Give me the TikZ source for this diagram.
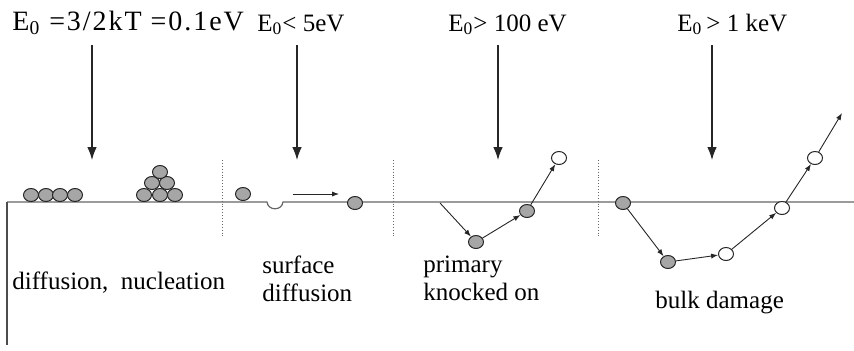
\documentclass[tikz,border=0pt]{standalone}
\usepackage{fontspec}
\setmainfont{Liberation Serif}
\usepackage{tikz}
\usetikzlibrary{arrows.meta,positioning,shapes.geometric}

\begin{document}
\begin{tikzpicture}[
  x=0.5pt, y=-0.5pt,
  font=\fontsize{12.5}{14}\selectfont,
  ball/.style={
    ellipse, draw=black!85, line width=0.5pt,
    minimum width=7.5pt, minimum height=6.5pt, inner sep=0pt,
    fill=black!35
  },
  hole/.style={ball, fill=white},
  lbl/.style={anchor=base west, inner sep=0pt, align=left},
  sep/.style={densely dotted, black!60, line width=0.45pt},
  drop/.style={-{Latex[length=6.5pt,width=4.8pt]}, black!85, line width=0.6pt},
  hop/.style={-{Latex[length=3.5pt,width=2.6pt]}, black!85, line width=0.45pt}
]
  \useasboundingbox (0,0) rectangle (854,350);

  \draw[black!60, line width=0.6pt] (7,202) -- (267,202)
    .. controls (268,211) and (282,211) .. (283,202) -- (854,202);
  \draw[black!70, line width=0.9pt] (7,202) -- (7,345);

  \foreach \x in {222,393,598}
    \draw[sep] (\x,160) -- (\x,238);

  \node[lbl, font=\fontsize{14}{16}\selectfont] (e1) at (12,30)
    {\addfontfeature{LetterSpace=7}E\textsubscript{0} =3/2kT =0.1eV};
  \node[lbl] (e2) at (257,31) {E\textsubscript{0}< 5eV};
  \node[lbl] (e3) at (448,31) {E\textsubscript{0}> 100 eV};
  \node[lbl] (e4) at (677,31) {E\textsubscript{0}\kern2pt> 1 keV};

  \foreach \n/\x in {1/92, 2/297, 3/498, 4/712} {
    \coordinate (d\n s) at (\x,45);
    \coordinate (d\n e) at (\x,160);
    \draw[drop] (d\n s) -- (d\n e);
  }

  \foreach \x in {31,46,60,75}
    \node[ball] at (\x,195) {};
  \foreach \x in {144,160,175}
    \node[ball] at (\x,195) {};
  \foreach \x in {152,167}
    \node[ball] at (\x,183) {};
  \node[ball] at (160,172) {};

  \node[ball] (sd1) at (243,194) {};
  \node[ball] (sd2) at (355,203) {};
  \coordinate (sda) at (293,194);
  \coordinate (sdb) at (339,194);
  \draw[hop] (sda) -- (sdb);

  \coordinate (pk0) at (440,203);
  \node[ball] (pk1) at (476,242) {};
  \node[ball] (pk2) at (527,211) {};
  \node[hole] (pk3) at (559,158) {};
  \foreach \a/\b in {pk0/pk1, pk1/pk2, pk2/pk3}
    \draw[hop] (\a) -- (\b);

  \node[ball] (bd1) at (623,203) {};
  \node[ball] (bd2) at (668,262) {};
  \node[hole] (bd3) at (726,254) {};
  \node[hole] (bd4) at (782,208) {};
  \node[hole] (bd5) at (815,158) {};
  \coordinate (bd6) at (842,113);
  \foreach \a/\b in {bd1/bd2, bd2/bd3, bd3/bd4, bd4/bd5, bd5/bd6}
    \draw[hop] (\a) -- (\b);

  \node[lbl] (t1) at (12,289) {diffusion,\ \ nucleation};
  \node[lbl] (t2) at (262,301) {surface\\diffusion};
  \node[lbl] (t3) at (423,300) {primary\\knocked on};
  \node[lbl] (t4) at (655,308) {bulk damage};
\end{tikzpicture}
\end{document}
